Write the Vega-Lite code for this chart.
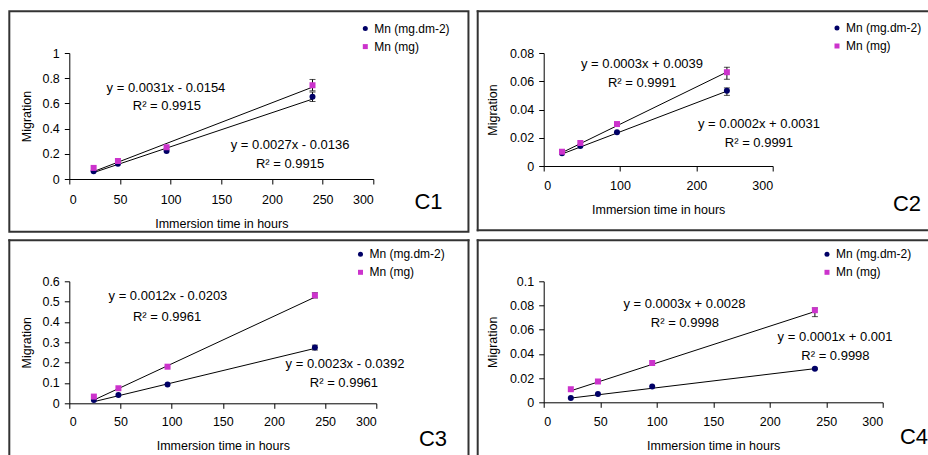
{
"$schema": "https://vega.github.io/schema/vega-lite/v6.json",
"padding": {"left": 7.3, "top": 9, "right": 0, "bottom": 0},
"background": "white",
"config": {
 "view": {"stroke": null},
 "font": "Liberation Sans",
 "axis": {"grid": false, "domainColor": "#000", "tickColor": "#000", "labelColor": "#000", "titleColor": "#000", "labelFont": "Liberation Sans", "titleFont": "Liberation Sans", "labelFontSize": 12.5, "titleFontSize": 12.5, "titleFontWeight": "normal", "tickSize": 5, "domainWidth": 1, "tickWidth": 1},
 "legend": {"labelFont": "Liberation Sans", "labelFontSize": 12, "labelColor": "#000", "symbolSize": 25, "rowPadding": 6, "labelOffset": 3, "padding": 0, "symbolStrokeWidth": 0}
},
"datasets": {
 "c1pts": [
  {"s": "Mn (mg.dm-2)", "x": 24, "y": 0.062}, {"s": "Mn (mg.dm-2)", "x": 48, "y": 0.122}, {"s": "Mn (mg.dm-2)", "x": 96, "y": 0.222}, {"s": "Mn (mg.dm-2)", "x": 240, "y": 0.652},
  {"s": "Mn (mg)", "x": 24, "y": 0.088}, {"s": "Mn (mg)", "x": 48, "y": 0.143}, {"s": "Mn (mg)", "x": 96, "y": 0.252}, {"s": "Mn (mg)", "x": 240, "y": 0.744}],
 "c1err": [{"s": "Mn (mg.dm-2)", "x": 240, "lo": 0.615, "hi": 0.69}, {"s": "Mn (mg)", "x": 240, "lo": 0.70, "hi": 0.79}],
 "c1trend": [{"s": "Mn (mg.dm-2)", "x": 24, "y": 0.051}, {"s": "Mn (mg.dm-2)", "x": 240, "y": 0.634}, {"s": "Mn (mg)", "x": 24, "y": 0.059}, {"s": "Mn (mg)", "x": 240, "y": 0.729}],
 "c1eq": [{"x": 95.4, "y": 0.726, "t": "y = 0.0031x - 0.0154"}, {"x": 96.3, "y": 0.583, "t": "R² = 0.9915"}, {"x": 217.8, "y": 0.271, "t": "y = 0.0027x - 0.0136"}, {"x": 217.8, "y": 0.117, "t": "R² = 0.9915"}],
 "c2pts": [
  {"s": "Mn (mg.dm-2)", "x": 24, "y": 0.009}, {"s": "Mn (mg.dm-2)", "x": 48, "y": 0.0142}, {"s": "Mn (mg.dm-2)", "x": 96, "y": 0.0239}, {"s": "Mn (mg.dm-2)", "x": 240, "y": 0.0533},
  {"s": "Mn (mg)", "x": 24, "y": 0.0101}, {"s": "Mn (mg)", "x": 48, "y": 0.0163}, {"s": "Mn (mg)", "x": 96, "y": 0.0297}, {"s": "Mn (mg)", "x": 240, "y": 0.0664}],
 "c2err": [{"s": "Mn (mg.dm-2)", "x": 240, "lo": 0.050, "hi": 0.0553}, {"s": "Mn (mg)", "x": 240, "lo": 0.0614, "hi": 0.0699}],
 "c2trend": [{"s": "Mn (mg.dm-2)", "x": 24, "y": 0.0085}, {"s": "Mn (mg.dm-2)", "x": 240, "y": 0.053}, {"s": "Mn (mg)", "x": 24, "y": 0.0095}, {"s": "Mn (mg)", "x": 240, "y": 0.0665}],
 "c2eq": [{"x": 128.8, "y": 0.072, "t": "y = 0.0003x + 0.0039"}, {"x": 128.8, "y": 0.05855, "t": "R² = 0.9991"}, {"x": 282, "y": 0.02952, "t": "y = 0.0002x + 0.0031"}, {"x": 282, "y": 0.01607, "t": "R² = 0.9991"}],
 "c3pts": [
  {"s": "Mn (mg.dm-2)", "x": 24, "y": 0.016}, {"s": "Mn (mg.dm-2)", "x": 48, "y": 0.041}, {"s": "Mn (mg.dm-2)", "x": 96, "y": 0.093}, {"s": "Mn (mg.dm-2)", "x": 240, "y": 0.275},
  {"s": "Mn (mg)", "x": 24, "y": 0.033}, {"s": "Mn (mg)", "x": 48, "y": 0.074}, {"s": "Mn (mg)", "x": 96, "y": 0.18}, {"s": "Mn (mg)", "x": 240, "y": 0.531}],
 "c3err": [{"s": "Mn (mg.dm-2)", "x": 240, "lo": 0.262, "hi": 0.286}, {"s": "Mn (mg)", "x": 240, "lo": 0.518, "hi": 0.544}],
 "c3trend": [{"s": "Mn (mg.dm-2)", "x": 24, "y": 0.008}, {"s": "Mn (mg.dm-2)", "x": 240, "y": 0.27}, {"s": "Mn (mg)", "x": 24, "y": 0.016}, {"s": "Mn (mg)", "x": 240, "y": 0.522}],
 "c3eq": [{"x": 96.4, "y": 0.5277, "t": "y = 0.0012x - 0.0203"}, {"x": 95.5, "y": 0.4264, "t": "R² = 0.9961"}, {"x": 269.4, "y": 0.1918, "t": "y = 0.0023x - 0.0392"}, {"x": 268.4, "y": 0.0984, "t": "R² = 0.9961"}],
 "c4pts": [
  {"s": "Mn (mg.dm-2)", "x": 24, "y": 0.0036}, {"s": "Mn (mg.dm-2)", "x": 48, "y": 0.0069}, {"s": "Mn (mg.dm-2)", "x": 96, "y": 0.013}, {"s": "Mn (mg.dm-2)", "x": 240, "y": 0.0278},
  {"s": "Mn (mg)", "x": 24, "y": 0.0108}, {"s": "Mn (mg)", "x": 48, "y": 0.0172}, {"s": "Mn (mg)", "x": 96, "y": 0.0325}, {"s": "Mn (mg)", "x": 240, "y": 0.0761}],
 "c4err": [{"s": "Mn (mg.dm-2)", "x": 240, "lo": 0.0272, "hi": 0.0284}, {"s": "Mn (mg)", "x": 240, "lo": 0.0708, "hi": 0.078}],
 "c4trend": [{"s": "Mn (mg.dm-2)", "x": 24, "y": 0.0035}, {"s": "Mn (mg.dm-2)", "x": 240, "y": 0.0278}, {"s": "Mn (mg)", "x": 24, "y": 0.0095}, {"s": "Mn (mg)", "x": 240, "y": 0.075}],
 "c4eq": [{"x": 124.6, "y": 0.081, "t": "y = 0.0003x + 0.0028"}, {"x": 125, "y": 0.0659, "t": "R² = 0.9998"}, {"x": 257.8, "y": 0.0543, "t": "y = 0.0001x + 0.001"}, {"x": 258.2, "y": 0.0383, "t": "R² = 0.9998"}]
},
"columns": 2,
"bounds": "flush",
"align": "all",
"spacing": {"row": 102.3, "column": 135.4},
"resolve": {"scale": {"x": "independent", "y": "independent", "color": "independent", "shape": "independent"}, "axis": {"x": "independent", "y": "independent"}, "legend": {"color": "independent", "shape": "independent"}},
"concat": [
   {
    "width": 304, "height": 126,
    "encoding": {
     "x": {"field": "x", "type": "quantitative", "title": "Immersion time in hours", "scale": {"domain": [0, 300], "nice": false, "padding": 0}, "axis": {"values": [0, 50, 100, 150, 200, 250, 300], "labelPadding": 9, "titleY": 44, "titleBaseline": "middle"}},
     "y": {"field": "y", "type": "quantitative", "title": "Migration", "scale": {"domain": [0, 1], "nice": false, "padding": 0}, "axis": {"values": [0, 0.2, 0.4, 0.6, 0.8, 1], "format": "~g", "labelPadding": 5, "titleX": -43, "titleBaseline": "middle"}}
    },
    "layer": [
     {"data": {"values": [{"x": -59.2, "x2": 393.9, "y": 1.331, "y2": -0.419}]}, "mark": {"type": "rect", "fill": "transparent", "stroke": "#333333", "strokeWidth": 2, "clip": false}, "encoding": {"x2": {"field": "x2"}, "y2": {"field": "y2"}}},
     {"data": {"name": "c1trend"}, "mark": {"type": "line", "color": "#000", "strokeWidth": 1}, "encoding": {"detail": {"field": "s"}}},
     {"data": {"name": "c1err"}, "mark": {"type": "errorbar", "ticks": {"size": 6}, "color": "#000"}, "encoding": {"y": {"field": "lo", "type": "quantitative", "title": "Migration"}, "y2": {"field": "hi"}}},
     {"data": {"name": "c1pts"}, "mark": {"type": "point", "filled": true, "size": 36, "opacity": 1},
      "encoding": {
       "color": {"field": "s", "type": "nominal", "scale": {"domain": ["Mn (mg.dm-2)", "Mn (mg)"], "range": ["#000066", "#cc33cc"]}, "legend": {"title": null, "orient": "none", "legendX": 290, "legendY": -30.4}},
       "shape": {"field": "s", "type": "nominal", "scale": {"domain": ["Mn (mg.dm-2)", "Mn (mg)"], "range": ["circle", "square"]}, "legend": {"title": null, "orient": "none", "legendX": 290, "legendY": -30.4}}
      }},
     {"data": {"name": "c1eq"}, "mark": {"type": "text", "fontSize": 13, "font": "Liberation Sans", "color": "#000", "align": "center", "baseline": "middle"}, "encoding": {"text": {"field": "t"}}},
     {"data": {"values": [{"x": 354.5, "y": -0.185, "t": "C1"}]}, "mark": {"type": "text", "fontSize": 22, "font": "Liberation Sans", "color": "#000", "align": "center", "baseline": "middle"}, "encoding": {"text": {"field": "t"}}}
    ]
   },
   {
    "width": 229, "height": 113,
    "encoding": {
     "x": {"field": "x", "type": "quantitative", "title": "Immersion time in hours", "scale": {"domain": [0, 300], "nice": false, "padding": 0}, "axis": {"values": [0, 100, 200, 300], "labelPadding": 8, "titleY": 43.3, "titleBaseline": "middle"}},
     "y": {"field": "y", "type": "quantitative", "title": "Migration", "scale": {"domain": [0, 0.08], "nice": false, "padding": 0}, "axis": {"values": [0, 0.02, 0.04, 0.06, 0.08], "format": "~g", "labelPadding": 5, "titleX": -50.7, "titleBaseline": "middle"}}
    },
    "layer": [
     {"data": {"values": [{"x": -86.46, "x2": 502.1, "y": 0.10952, "y2": 0.10952}, {"x": -86.46, "x2": 502.1, "y": -0.04552, "y2": -0.04552}, {"x": -86.46, "x2": -86.46, "y": 0.10952, "y2": -0.04552}]}, "mark": {"type": "rule", "color": "#333333", "strokeWidth": 2, "strokeCap": "square", "clip": false}, "encoding": {"x2": {"field": "x2"}, "y2": {"field": "y2"}}},
     {"data": {"name": "c2trend"}, "mark": {"type": "line", "color": "#000", "strokeWidth": 1}, "encoding": {"detail": {"field": "s"}}},
     {"data": {"name": "c2err"}, "mark": {"type": "errorbar", "ticks": {"size": 6}, "color": "#000"}, "encoding": {"y": {"field": "lo", "type": "quantitative", "title": "Migration"}, "y2": {"field": "hi"}}},
     {"data": {"name": "c2pts"}, "mark": {"type": "point", "filled": true, "size": 36, "opacity": 1},
      "encoding": {
       "color": {"field": "s", "type": "nominal", "scale": {"domain": ["Mn (mg.dm-2)", "Mn (mg)"], "range": ["#000066", "#cc33cc"]}, "legend": {"title": null, "orient": "none", "legendX": 287.3, "legendY": -31}},
       "shape": {"field": "s", "type": "nominal", "scale": {"domain": ["Mn (mg.dm-2)", "Mn (mg)"], "range": ["circle", "square"]}, "legend": {"title": null, "orient": "none", "legendX": 287.3, "legendY": -31}}
      }},
     {"data": {"name": "c2eq"}, "mark": {"type": "text", "fontSize": 13, "font": "Liberation Sans", "color": "#000", "align": "center", "baseline": "middle"}, "encoding": {"text": {"field": "t"}}},
     {"data": {"values": [{"x": 476, "y": -0.0271, "t": "C2"}]}, "mark": {"type": "text", "fontSize": 22, "font": "Liberation Sans", "color": "#000", "align": "center", "baseline": "middle"}, "encoding": {"text": {"field": "t"}}}
    ]
   },
   {
    "width": 307, "height": 122,
    "encoding": {
     "x": {"field": "x", "type": "quantitative", "title": "Immersion time in hours", "scale": {"domain": [0, 300], "nice": false, "padding": 0}, "axis": {"values": [0, 50, 100, 150, 200, 250, 300], "labelPadding": 7.5, "titleY": 42, "titleBaseline": "middle"}},
     "y": {"field": "y", "type": "quantitative", "title": "Migration", "scale": {"domain": [0, 0.6], "nice": false, "padding": 0}, "axis": {"values": [0, 0.1, 0.2, 0.3, 0.4, 0.5, 0.6], "format": "~g", "labelPadding": 5, "titleX": -43, "titleBaseline": "middle"}}
    },
    "layer": [
     {"data": {"values": [{"x": -58.63, "x2": 390.1, "y": 0.8016, "y2": 0.8016}, {"x": -58.63, "x2": -58.63, "y": 0.8016, "y2": -0.2508}, {"x": 390.1, "x2": 390.1, "y": 0.8016, "y2": -0.2508}]}, "mark": {"type": "rule", "color": "#333333", "strokeWidth": 2, "strokeCap": "square", "clip": false}, "encoding": {"x2": {"field": "x2"}, "y2": {"field": "y2"}}},
     {"data": {"name": "c3trend"}, "mark": {"type": "line", "color": "#000", "strokeWidth": 1}, "encoding": {"detail": {"field": "s"}}},
     {"data": {"name": "c3err"}, "mark": {"type": "errorbar", "ticks": {"size": 6}, "color": "#000"}, "encoding": {"y": {"field": "lo", "type": "quantitative", "title": "Migration"}, "y2": {"field": "hi"}}},
     {"data": {"name": "c3pts"}, "mark": {"type": "point", "filled": true, "size": 36, "opacity": 1},
      "encoding": {
       "color": {"field": "s", "type": "nominal", "scale": {"domain": ["Mn (mg.dm-2)", "Mn (mg)"], "range": ["#000066", "#cc33cc"]}, "legend": {"title": null, "orient": "none", "legendX": 285.2, "legendY": -33}},
       "shape": {"field": "s", "type": "nominal", "scale": {"domain": ["Mn (mg.dm-2)", "Mn (mg)"], "range": ["circle", "square"]}, "legend": {"title": null, "orient": "none", "legendX": 285.2, "legendY": -33}}
      }},
     {"data": {"name": "c3eq"}, "mark": {"type": "text", "fontSize": 13, "font": "Liberation Sans", "color": "#000", "align": "center", "baseline": "middle"}, "encoding": {"text": {"field": "t"}}},
     {"data": {"values": [{"x": 355.4, "y": -0.177, "t": "C3"}]}, "mark": {"type": "text", "fontSize": 22, "font": "Liberation Sans", "color": "#000", "align": "center", "baseline": "middle"}, "encoding": {"text": {"field": "t"}}}
    ]
   },
   {
    "width": 339, "height": 121,
    "encoding": {
     "x": {"field": "x", "type": "quantitative", "title": "Immersion time in hours", "scale": {"domain": [0, 300], "nice": false, "padding": 0}, "axis": {"values": [0, 50, 100, 150, 200, 250, 300], "labelPadding": 8, "titleY": 43, "titleBaseline": "middle"}},
     "y": {"field": "y", "type": "quantitative", "title": "Migration", "scale": {"domain": [0, 0.1], "nice": false, "padding": 0}, "axis": {"values": [0, 0.02, 0.04, 0.06, 0.08, 0.1], "format": "~g", "labelPadding": 5, "titleX": -50.7, "titleBaseline": "middle"}}
    },
    "layer": [
     {"data": {"values": [{"x": -58.41, "x2": 339.2, "y": 0.13388, "y2": 0.13388}, {"x": -58.41, "x2": -58.41, "y": 0.13388, "y2": -0.04298}]}, "mark": {"type": "rule", "color": "#333333", "strokeWidth": 2, "strokeCap": "square", "clip": false}, "encoding": {"x2": {"field": "x2"}, "y2": {"field": "y2"}}},
     {"data": {"name": "c4trend"}, "mark": {"type": "line", "color": "#000", "strokeWidth": 1}, "encoding": {"detail": {"field": "s"}}},
     {"data": {"name": "c4err"}, "mark": {"type": "errorbar", "ticks": {"size": 6}, "color": "#000"}, "encoding": {"y": {"field": "lo", "type": "quantitative", "title": "Migration"}, "y2": {"field": "hi"}}},
     {"data": {"name": "c4pts"}, "mark": {"type": "point", "filled": true, "size": 36, "opacity": 1},
      "encoding": {
       "color": {"field": "s", "type": "nominal", "scale": {"domain": ["Mn (mg.dm-2)", "Mn (mg)"], "range": ["#000066", "#cc33cc"]}, "legend": {"title": null, "orient": "none", "legendX": 277.3, "legendY": -33}},
       "shape": {"field": "s", "type": "nominal", "scale": {"domain": ["Mn (mg.dm-2)", "Mn (mg)"], "range": ["circle", "square"]}, "legend": {"title": null, "orient": "none", "legendX": 277.3, "legendY": -33}}
      }},
     {"data": {"name": "c4eq"}, "mark": {"type": "text", "fontSize": 13, "font": "Liberation Sans", "color": "#000", "align": "center", "baseline": "middle"}, "encoding": {"text": {"field": "t"}}},
     {"data": {"values": [{"x": 327.7, "y": -0.0285, "t": "C4"}]}, "mark": {"type": "text", "fontSize": 22, "font": "Liberation Sans", "color": "#000", "align": "center", "baseline": "middle"}, "encoding": {"text": {"field": "t"}}}
    ]
   }
]
}
